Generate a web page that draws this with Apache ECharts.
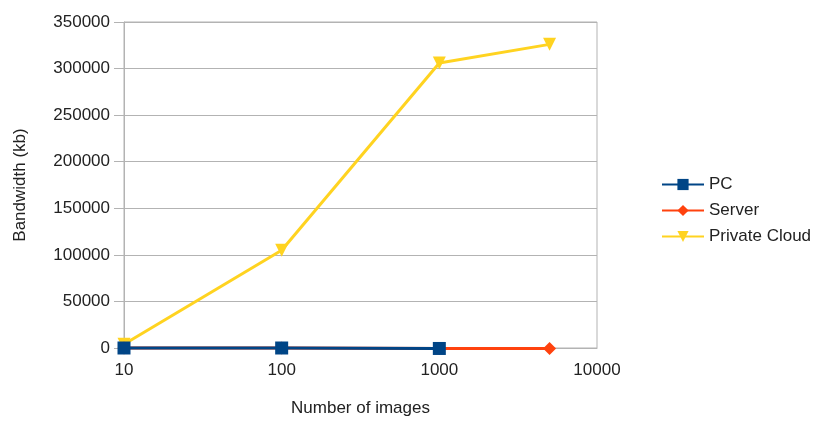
<!DOCTYPE html>
<html>
<head>
<meta charset="utf-8">
<script src="https://cdn.jsdelivr.net/npm/echarts@6/dist/echarts.min.js"></script>
<style>
  html, body { margin: 0; padding: 0; background: #ffffff; }
  #chart { width: 820px; height: 422px; }
</style>
</head>
<body>
<div id="chart"></div>
<script>
const imageCounts = [10, 100, 1000, 5000];
const pcValues = [0, 0, -500];
const serverValues = [0, 0, -500, -500];
const cloudValues = [4000, 105000, 306000, 326000];
const yTicks = [0, 350000, 50000];

function pairs(xs, ys) {
  return ys.map((y, i) => [xs[i], y]);
}

const fontFam = '"Liberation Sans", Arial, sans-serif';
const plain = v => String(v);

const option = {
  animation: false,
  backgroundColor: '#ffffff',
  grid: {
    left: 124,
    right: 223,
    top: 22,
    bottom: 72,
    show: true,
    borderColor: '#b3b3b3',
    borderWidth: 1
  },
  legend: {
    orient: 'vertical',
    left: 656,
    top: 171,
    itemWidth: 42,
    itemHeight: 14,
    itemGap: 9,
    textStyle: { fontFamily: fontFam, fontSize: 17, color: '#222' },
    data: ['PC', 'Server', 'Private Cloud']
  },
  xAxis: {
    type: 'log',
    logBase: 10,
    min: 10,
    max: 10000,
    name: 'Number of images',
    nameLocation: 'middle',
    nameGap: 52,
    nameTextStyle: { fontFamily: fontFam, fontSize: 17, color: '#222' },
    axisLine: { show: true, lineStyle: { color: '#b3b3b3' } },
    axisTick: { show: false },
    splitLine: { show: false },
    minorTick: { show: false },
    axisLabel: { fontFamily: fontFam, fontSize: 17, color: '#222', margin: 14, formatter: plain }
  },
  yAxis: {
    type: 'value',
    min: yTicks[0],
    max: yTicks[1],
    interval: yTicks[2],
    name: 'Bandwidth (kb)',
    nameLocation: 'middle',
    nameGap: 95,
    nameTextStyle: { fontFamily: fontFam, fontSize: 17, color: '#222' },
    axisLine: { show: true, lineStyle: { color: '#b3b3b3' } },
    axisTick: { show: true, length: 10, lineStyle: { color: '#b3b3b3' } },
    splitLine: { show: true, lineStyle: { color: '#b3b3b3' } },
    axisLabel: { fontFamily: fontFam, fontSize: 17, color: '#222', margin: 14, formatter: plain }
  },
  series: [
    {
      name: 'Private Cloud',
      type: 'line',
      z: 1,
      clip: false,
      showAllSymbol: true,
      data: pairs(imageCounts, cloudValues),
      symbol: 'triangle',
      symbolRotate: 180,
      symbolSize: 13,
      lineStyle: { width: 3, color: '#ffd320' },
      itemStyle: { color: '#ffd320' }
    },
    {
      name: 'Server',
      type: 'line',
      z: 2,
      clip: false,
      showAllSymbol: true,
      data: pairs(imageCounts, serverValues),
      symbol: 'diamond',
      symbolSize: 13,
      lineStyle: { width: 3, color: '#ff420e' },
      itemStyle: { color: '#ff420e' }
    },
    {
      name: 'PC',
      type: 'line',
      z: 3,
      clip: false,
      showAllSymbol: true,
      data: pairs(imageCounts, pcValues),
      symbol: 'rect',
      symbolSize: 13,
      lineStyle: { width: 3, color: '#004586' },
      itemStyle: { color: '#004586' }
    }
  ]
};

const chart = echarts.init(document.getElementById('chart'));
chart.setOption(option);
</script>
</body>
</html>
